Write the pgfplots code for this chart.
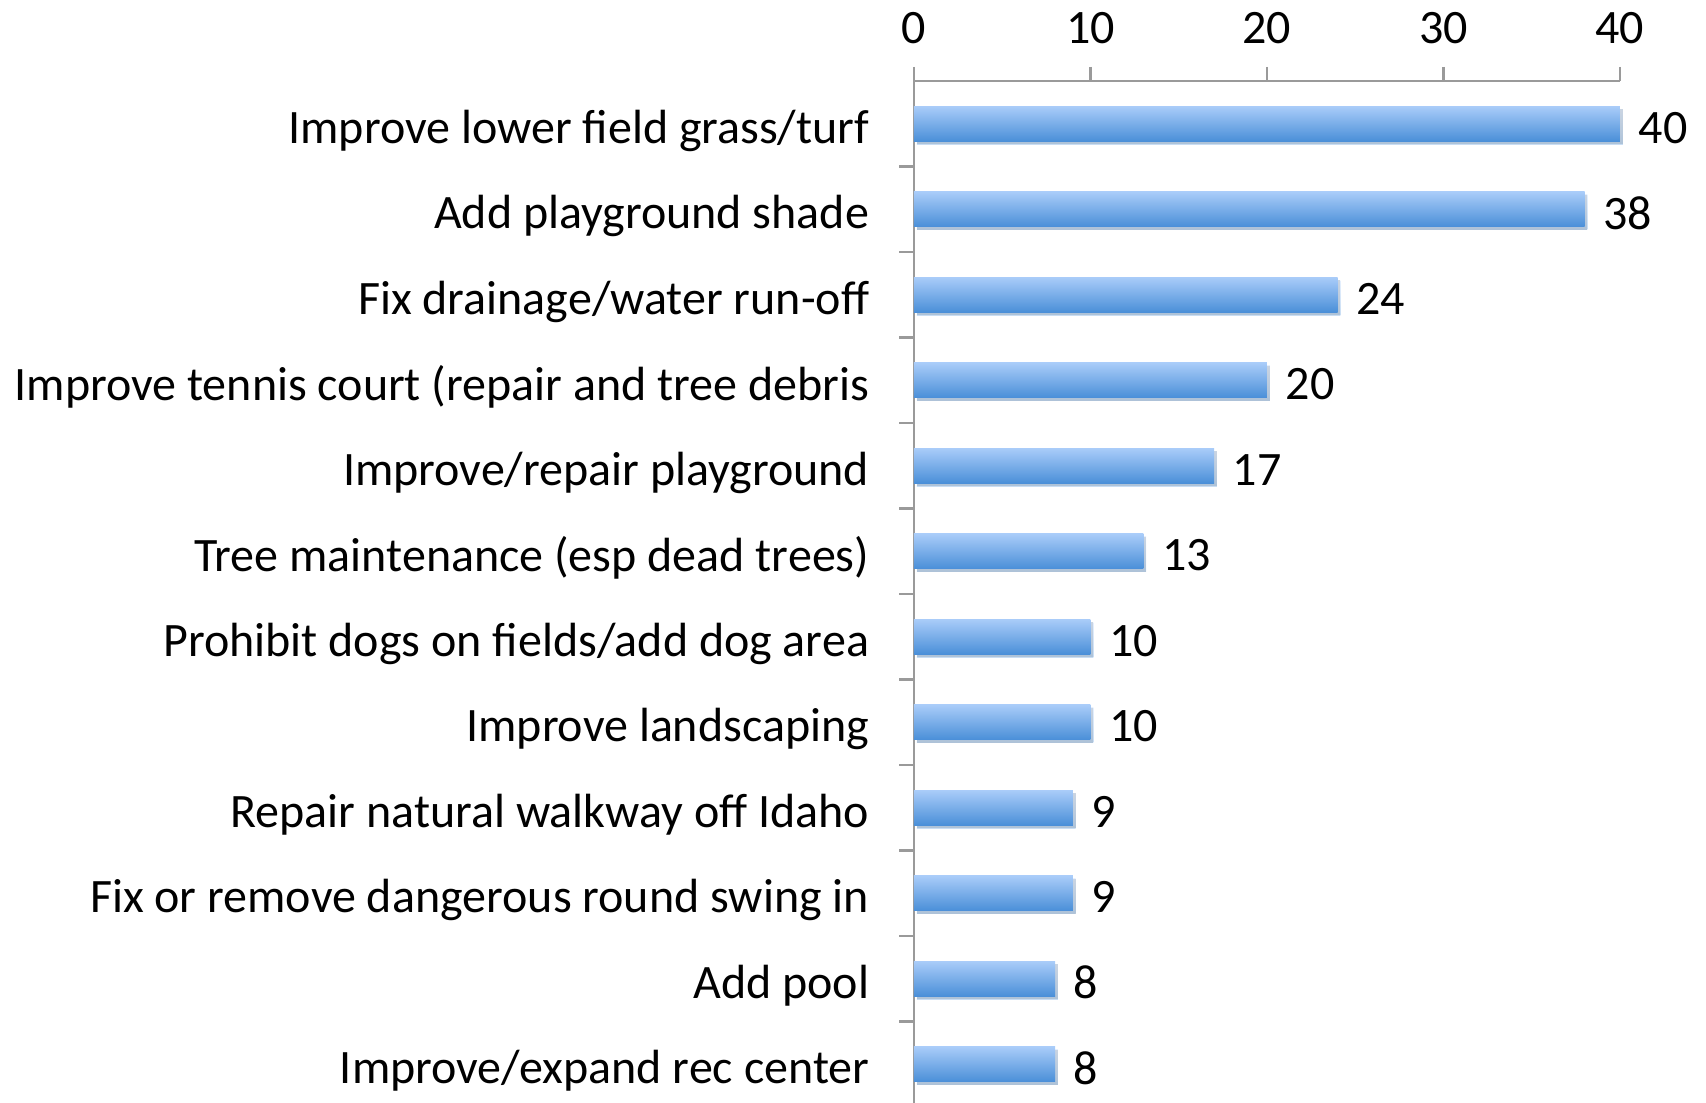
\documentclass[border=0pt]{standalone}
\usepackage{fontspec}
\setmainfont{Carlito}
\usepackage{pgfplots}
\pgfplotsset{compat=1.18}
\usetikzlibrary{shadows}
\definecolor{axgray}{HTML}{9A9A9A}
\definecolor{bartop}{HTML}{A9CCF9}
\definecolor{barbot}{HTML}{4A8FD8}
\pgfplotsset{onebar/.style={xbar, bar width=8.75pt, bar shift=0pt, draw=none, top color=bartop, bottom color=barbot,
  drop shadow={opacity=0.3, shadow xshift=0.7pt, shadow yshift=-0.8pt},
  nodes near coords,
  every node near coord/.append style={font=\fontsize{12pt}{14pt}\selectfont, text=black, inner sep=0pt, xshift=4.5pt, yshift=-1.0pt, anchor=west},
  /pgf/number format/assume math mode=true}}
\begin{document}
\begin{tikzpicture}[x=0.25pt,y=0.25pt]
\useasboundingbox (-914,4) rectangle (792,1107);
\begin{axis}[
  at={(0,0)}, anchor=south west,
  scale only axis,
  width=176.5pt, height=256.5pt,
  xmin=0, xmax=40,
  ymin=-0.5, ymax=11.5,
  axis x line=top, axis y line=left,
  axis line style={draw=axgray, line width=0.6pt, -},
  xtick={0,10,20,30,40},
  ytick={0,...,11},
  yticklabels={Improve/expand rec center, Add pool, Fix or remove dangerous round swing in, Repair natural walkway off Idaho, Improve landscaping, Prohibit dogs on fields/add dog area, Tree maintenance (esp dead trees), Improve/repair playground, Improve tennis court (repair and tree debris, Fix drainage/water run-off, Add playground shade, Improve lower field grass/turf},
  minor ytick={0.5,...,10.5},
  tick align=outside,
  major tick length=3.5pt,
  minor tick length=3.7pt,
  major x tick style={draw=axgray, line width=0.6pt},
  major y tick style={draw=none},
  minor y tick style={draw=axgray, line width=0.6pt},
  font=\fontsize{12pt}{14pt}\selectfont,
  /pgf/number format/assume math mode=true,
  xticklabel style={font=\fontsize{12pt}{14pt}\selectfont, inner sep=0pt, yshift=5.5pt},
  yticklabel style={font=\fontsize{12pt}{14pt}\selectfont, inner sep=0pt, xshift=-7.5pt, yshift=-1.7pt},
  clip=false,
]
\addplot[onebar] coordinates {(8,0)};
\addplot[onebar] coordinates {(8,1)};
\addplot[onebar] coordinates {(9,2)};
\addplot[onebar] coordinates {(9,3)};
\addplot[onebar] coordinates {(10,4)};
\addplot[onebar] coordinates {(10,5)};
\addplot[onebar] coordinates {(13,6)};
\addplot[onebar] coordinates {(17,7)};
\addplot[onebar] coordinates {(20,8)};
\addplot[onebar] coordinates {(24,9)};
\addplot[onebar] coordinates {(38,10)};
\addplot[onebar] coordinates {(40,11)};
\end{axis}
\end{tikzpicture}
\end{document}
